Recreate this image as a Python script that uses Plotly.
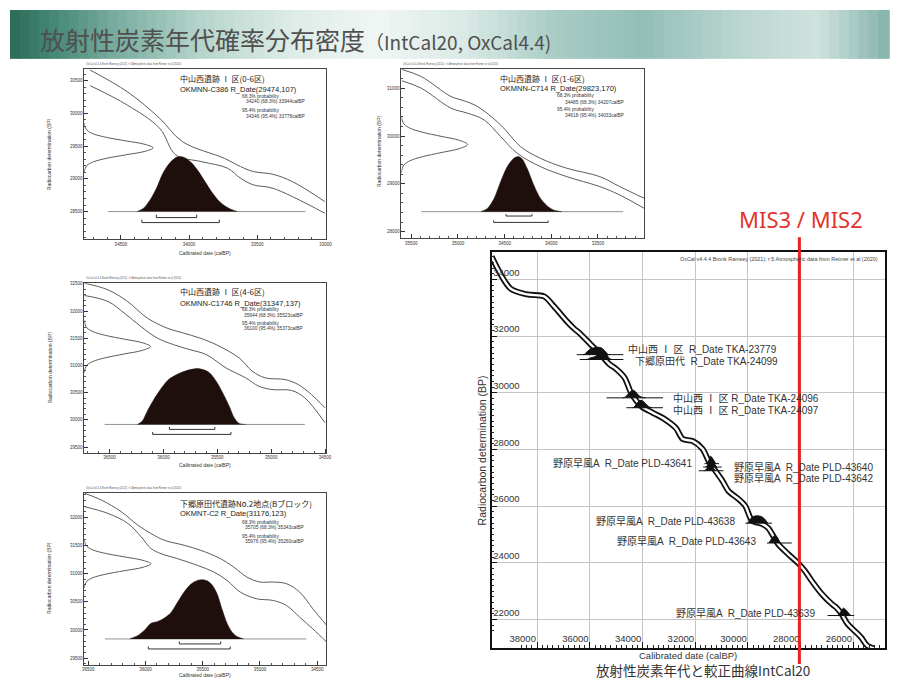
import plotly.graph_objects as go

# page body has an 8px margin: the figure is drawn 8px in from the window edge
OFF = 8
W, H = 902 - 2 * OFF, 687 - 2 * OFF

# ---------------- DATA ----------------
# Panel 1 : OKMNN-C386
p1_upper_cal = [34725, 34453, 34215, 34049, 33741, 33622, 33527, 33385, 33242, 33005]
p1_upper_bp = [30663, 30332, 29925, 29569, 29314, 29187, 29111, 29070, 28958, 28653]
p1_lower_cal = [34725, 34453, 34215, 34097, 33907, 33717, 33622, 33527, 33385, 33005]
p1_lower_bp = [30424, 30128, 29772, 29365, 29263, 29162, 29009, 28907, 28856, 28475]
p1_cal = [34381, 34334, 34286, 34239, 34192, 34144, 34097, 34061, 34025, 33978, 33930, 33883, 33836, 33788, 33741, 33693, 33646]
p1_dens = [0, .061, .212, .424, .697, .879, .982, 1, .97, .879, .727, .545, .364, .212, .109, .042, 0]
p1_rdate = (29474, 107)
p1_r68 = (34240, 33944)
p1_r95 = (34346, 33778)

# Panel 2 : OKMNN-C714
p2_upper_cal = [35600, 35394, 35074, 34933, 34791, 34543, 34330, 34117, 33833, 33479, 33266, 33004]
p2_upper_bp = [31390, 31244, 30825, 30735, 30616, 30232, 29779, 29534, 29325, 29150, 28941, 28697]
p2_lower_cal = [35600, 35394, 35074, 34897, 34720, 34543, 34365, 34117, 33833, 33479, 33266, 33004]
p2_lower_bp = [31154, 31000, 30581, 30477, 30337, 29988, 29639, 29360, 29150, 28941, 28766, 28487]
p2_cal = [34755, 34684, 34613, 34543, 34472, 34401, 34355, 34312, 34259, 34188, 34117, 34046, 33975, 33887]
p2_dens = [0, .06, .24, .545, .818, .97, 1, .958, .788, .485, .242, .109, .03, 0]
p2_rdate = (29823, 170)
p2_r68 = (34485, 34207)
p2_r95 = (34618, 34033)

# Panel 3 : OKMNN-C1746
p3_upper_cal = [36734, 36515, 36333, 36150, 35967, 35815, 35663, 35510, 35297, 35175, 35054, 34871, 34749, 34627, 34500]
p3_upper_bp = [32512, 32390, 32176, 31871, 31687, 31596, 31504, 31382, 31137, 30893, 30771, 30740, 30649, 30465, 30221]
p3_lower_cal = [36734, 36515, 36363, 36211, 36058, 35906, 35754, 35602, 35419, 35236, 35115, 34993, 34810, 34688, 34500]
p3_lower_bp = [32286, 32176, 31962, 31718, 31504, 31382, 31290, 31199, 30954, 30771, 30618, 30557, 30539, 30404, 29946]
p3_cal = [36241, 36196, 36150, 36089, 36028, 35952, 35876, 35784, 35693, 35632, 35571, 35510, 35449, 35389, 35343, 35297, 35236]
p3_dens = [0, .06, .238, .446, .625, .804, .893, .964, 1, .982, .923, .774, .565, .327, .119, .018, 0]
p3_rdate = (31347, 137)
p3_r68 = (35944, 35523)
p3_r95 = (36100, 35373)

# Panel 4 : OKMNT-C2
p4_upper_cal = [36529, 36385, 36211, 36067, 35952, 35836, 35663, 35519, 35346, 35230, 35115, 34999, 34884, 34768, 34653, 34538, 34416]
p4_upper_bp = [32428, 32309, 32101, 31863, 31714, 31595, 31506, 31417, 31268, 31119, 30941, 30852, 30852, 30822, 30673, 30376, 30078]
p4_lower_cal = [36529, 36327, 36154, 36038, 35952, 35865, 35721, 35548, 35403, 35288, 35172, 35028, 34884, 34768, 34653, 34538, 34416]
p4_lower_bp = [32190, 32071, 31893, 31655, 31447, 31357, 31268, 31149, 31030, 30881, 30673, 30554, 30524, 30435, 30227, 30019, 29781]
p4_cal = [36139, 36067, 36009, 35952, 35894, 35836, 35779, 35721, 35663, 35605, 35548, 35504, 35461, 35418, 35375, 35331, 35288, 35245, 35201, 35144]
p4_dens = [0, .059, .147, .265, .294, .353, .441, .618, .794, .924, .988, 1, .982, .912, .765, .5, .265, .118, .041, 0]
p4_rdate = (31176, 123)
p4_r68 = (35705, 35343)
p4_r95 = (35976, 35260)

# Normal-shaped radiocarbon date outline (offset in sigma, relative height)
gauss_sig = [-3.5, -3, -2.5, -2, -1.5, -1, -0.5, 0, 0.5, 1, 1.5, 2, 2.5, 3, 3.5]
gauss_rel = [0.0, 0.01, 0.04, 0.13, 0.32, 0.6, 0.88, 1.0, 0.88, 0.6, 0.32, 0.13, 0.04, 0.01, 0.0]

# Big panel: IntCal20 curve (centre line)
big_curve_cal = [39730, 39015, 38376, 37737, 37361, 36872, 36609, 36383, 36007, 35631, 35255, 34992,
                 34680, 34428, 34052, 33613, 33225, 32736, 32473, 32097, 31721, 31495, 31232, 30969,
                 30743, 30367, 30104, 29841, 29465, 29239, 29089, 28863, 28487, 28111, 27848, 27585,
                 27209, 26833, 26645, 26457, 26231, 25968, 25705, 25479, 25216]
big_curve_bp = [34810, 33683, 33472, 33402, 33050, 32522, 32275, 32099, 31747, 31395, 31008, 30832,
                30526, 29987, 29530, 29294, 29107, 28755, 28368, 28298, 28016, 27594, 27242, 26890,
                26538, 26256, 26010, 25482, 25376, 25235, 25024, 24672, 24320, 24003, 23722, 23370,
                22912, 22560, 22419, 22208, 21856, 21610, 21363, 21082, 20978]

# Big panel dates: cal points, density
nohara_41_cal = [31650, 31560, 31480, 31420, 31360, 31300, 31220]
nohara_41_dens = [0, .3, .8, 1, .7, .3, 0]
nohara_40_cal = [31560, 31480, 31420, 31360, 31290, 31220]
nohara_40_dens = [0, .5, 1, .8, .4, 0]
nohara_42_cal = [31600, 31500, 31430, 31360, 31280, 31200]
nohara_42_dens = [0, .4, .9, 1, .5, 0]
nohara_38_cal = [30000, 29900, 29800, 29650, 29500, 29380, 29250]
nohara_38_dens = [0, .6, .9, 1, .9, .6, 0]
nohara_43_cal = [29200, 29100, 29000, 28920, 28850, 28780]
nohara_43_dens = [0, .6, 1, .9, .5, 0]
nohara_39_cal = [26600, 26480, 26380, 26300, 26200, 26100]
nohara_39_dens = [0, .5, 1, .8, .4, 0]

big_dates = [
    ("TKA-23779", 31347, p3_cal, p3_dens, (36500, 34730)),
    ("TKA-24099", 31176, p4_cal, p4_dens, (36383, 34729)),
    ("TKA-24096", 29823, p2_cal, p2_dens, (35368, 33225)),
    ("TKA-24097", 29474, p1_cal, p1_dens, (34616, 33225)),
    ("PLD-43640", 27500, nohara_40_cal, nohara_40_dens, (31650, 31100)),
    ("PLD-43642", 27380, nohara_42_cal, nohara_42_dens, (31700, 31000)),
    ("PLD-43641", 27250, nohara_41_cal, nohara_41_dens, (31870, 30930)),
    ("PLD-43638", 25400, nohara_38_cal, nohara_38_dens, (30100, 29090)),
    ("PLD-43643", 24700, nohara_43_cal, nohara_43_dens, (29280, 28340)),
    ("PLD-43639", 22140, nohara_39_cal, nohara_39_dens, (26980, 25970)),
]
mis_boundary = 28050

# ---------------- FIGURE ----------------
LATIN = "Liberation Sans, Arial, Noto Sans CJK JP, sans-serif"
CJK = "Noto Sans CJK JP, Liberation Sans, sans-serif"
CURVE = "#5c5c5c"
INK = "#1e0f0d"


def fx(px):
    return (px - OFF) / W


def fy(py):
    return 1 - (py - OFF) / H


fig = go.Figure()
annotations = []
shapes = []


def note(text, x, y, size, family=LATIN, color="#333", xanchor="center", yanchor="middle", angle=0):
    annotations.append(dict(xref="paper", yref="paper", x=fx(x), y=fy(y), xanchor=xanchor, yanchor=yanchor,
                            showarrow=False, text=text, textangle=angle,
                            font=dict(family=family, size=size, color=color)))


# background band (slide header)
band_stops = [(0.0, (44, 107, 87)), (0.04, (63, 131, 112)), (0.12, (121, 173, 159)), (0.22, (184, 214, 205)),
              (0.32, (222, 236, 231)), (0.42, (240, 246, 244)), (0.52, (218, 234, 230)), (0.62, (170, 205, 198)),
              (0.72, (147, 191, 183)), (0.82, (184, 212, 207)), (0.92, (208, 227, 223)), (1.0, (132, 179, 171))]
n_strips = 90
for i in range(n_strips):
    t = (i + 0.5) / n_strips
    c = band_stops[-1][1]
    for j in range(len(band_stops) - 1):
        a, ca = band_stops[j]
        b, cb = band_stops[j + 1]
        if a <= t <= b:
            u = (t - a) / (b - a)
            c = tuple(int(ca[k] + (cb[k] - ca[k]) * u) for k in range(3))
            break
    shapes.append(dict(type="rect", xref="paper", yref="paper", x0=i / n_strips, x1=(i + 1) / n_strips + 0.002,
                       y0=fy(57), y1=1.0, fillcolor="rgb(%d,%d,%d)" % c, line_width=0, layer="below"))

note("放射性炭素年代確率分布密度<span style='font-size:19px'>（IntCal20, OxCal4.4)</span>", 36, 37, 25,
     family=CJK, color="#505050", xanchor="left")

small = [
    dict(i=1, dx=(83, 327), dy=(67, 238), xr=[34768, 32995], yr=[28076, 30682], xt0=33000, ydt=500, yt0=28500,
         ym=100, up=(p1_upper_cal, p1_upper_bp), lo=(p1_lower_cal, p1_lower_bp), cal=p1_cal, dens=p1_dens,
         rd=p1_rdate, amp=505, base=28500, h=840, bl=(34595, 33147), r68=p1_r68, r95=p1_r95,
         y68=28408, y95=28332, tk=45,
         t1="中山西遺跡 Ⅰ 区(0-6区)", t2="OKMNN-C386 R_Date(29474,107)",
         txy=(178, 77, 88), pxy=(240, 244, 95, 100, 109, 115),
         p68="34240 (68.3%) 33944calBP", p95="34346 (95.4%) 33778calBP",
         xt=(205, 252), yt=(47, 153)),
    dict(i=2, dx=(403, 648), dy=(67, 237), xr=[35606, 33004], yr=[27860, 31405], xt0=33500, ydt=1000, yt0=28000,
         ym=200, up=(p2_upper_cal, p2_upper_bp), lo=(p2_lower_cal, p2_lower_bp), cal=p2_cal, dens=p2_dens,
         rd=p2_rdate, amp=709, base=28417, h=1152, bl=(35394, 33230), r68=p2_r68, r95=p2_r95,
         y68=28326, y95=28193, tk=40,
         t1="中山西遺跡 Ⅰ 区(1-6区)", t2="OKMNN-C714 R_Date(29823,170)",
         txy=(500, 77, 87), pxy=(558, 566, 94, 101, 108, 114),
         p68="34485 (68.3%) 34207calBP", p95="34618 (95.4%) 34033calBP",
         xt=None, yt=(380, 150)),
    dict(i=3, dx=(83, 327), dy=(282, 452), xr=[36734, 34490], yr=[29396, 32512], xt0=34500, ydt=500, yt0=29500,
         ym=100, up=(p3_upper_cal, p3_upper_bp), lo=(p3_lower_cal, p3_lower_bp), cal=p3_cal, dens=p3_dens,
         rd=p3_rdate, amp=615, base=29915, h=1027, bl=(36546, 34688), r68=p3_r68, r95=p3_r95,
         y68=29824, y95=29732, tk=45,
         t1="中山西遺跡 Ⅰ 区(4-6区)", t2="OKMNN-C1746 R_Date(31347,137)",
         txy=(178, 290, 302), pxy=(240, 242, 308, 314, 322, 327),
         p68="35944 (68.3%) 35523calBP", p95="36100 (95.4%) 35373calBP",
         xt=(205, 464), yt=(48, 367)),
    dict(i=4, dx=(83, 327), dy=(492, 665), xr=[36535, 34422], yr=[29376, 32443], xt0=34500, ydt=500, yt0=29500,
         ym=100, up=(p4_upper_cal, p4_upper_bp), lo=(p4_lower_cal, p4_lower_bp), cal=p4_cal, dens=p4_dens,
         rd=p4_rdate, amp=583, base=29840, h=1053, bl=(36356, 34595), r68=p4_r68, r95=p4_r95,
         y68=29751, y95=29662, tk=45,
         t1="下郷原田代遺跡No.2地点(Bブロック)", t2="OKMNT-C2 R_Date(31176,123)",
         txy=(178, 503, 513), pxy=(240, 243, 522, 527, 536, 541),
         p68="35705 (68.3%) 35343calBP", p95="35976 (95.4%) 35260calBP",
         xt=(205, 675), yt=(48, 578)),
]

layout_axes = {}
for p in small:
    i = p["i"]
    xa = "x" if i == 1 else "x%d" % i
    ya = "y" if i == 1 else "y%d" % i
    xkey = "xaxis" if i == 1 else "xaxis%d" % i
    ykey = "yaxis" if i == 1 else "yaxis%d" % i
    layout_axes[xkey] = dict(domain=[fx(p["dx"][0]), fx(p["dx"][1])], range=p["xr"], anchor=ya,
                             tickmode="linear", tick0=p["xt0"], dtick=500, tickformat="d",
                             ticks="inside", ticklen=4, tickcolor="#333", showgrid=False, zeroline=False,
                             showline=True, mirror=True, linecolor="#444", linewidth=1,
                             tickfont=dict(family=LATIN, size=4.5, color="#333"),
                             minor=dict(ticks="inside", ticklen=2, dtick=100, tickcolor="#555", showgrid=False))
    layout_axes[ykey] = dict(domain=[fy(p["dy"][1]), fy(p["dy"][0])], range=p["yr"], anchor=xa,
                             tickmode="linear", tick0=p["yt0"], dtick=p["ydt"], tickformat="d",
                             ticks="inside", ticklen=4, tickcolor="#333", showgrid=False, zeroline=False,
                             showline=True, mirror=True, linecolor="#444", linewidth=1,
                             tickfont=dict(family=LATIN, size=4.5, color="#333"),
                             minor=dict(ticks="inside", ticklen=2, dtick=p["ym"], tickcolor="#555", showgrid=False))
    # calibration curve envelope
    for cx, cy in (p["up"], p["lo"]):
        fig.add_trace(go.Scatter(x=cx, y=cy, xaxis=xa, yaxis=ya, mode="lines",
                                 line=dict(color=CURVE, width=1, shape="spline", smoothing=1.0),
                                 hoverinfo="skip"))
    # radiocarbon date outline on the y axis
    mean, sd = p["rd"]
    gx = [p["xr"][0] - p["amp"] * r for r in gauss_rel]
    gy = [mean + s * sd for s in gauss_sig]
    fig.add_trace(go.Scatter(x=gx, y=gy, xaxis=xa, yaxis=ya, mode="lines",
                             line=dict(color=CURVE, width=1, shape="spline", smoothing=1.0), hoverinfo="skip"))
    # baseline
    fig.add_trace(go.Scatter(x=list(p["bl"]), y=[p["base"], p["base"]], xaxis=xa, yaxis=ya, mode="lines",
                             line=dict(color="#777", width=0.8), hoverinfo="skip"))
    # calibrated distribution
    fig.add_trace(go.Scatter(x=p["cal"], y=[p["base"] + p["h"] * d for d in p["dens"]], xaxis=xa, yaxis=ya,
                             mode="lines", fill="toself", fillcolor=INK,
                             line=dict(color=INK, width=0.5, shape="spline", smoothing=0.8), hoverinfo="skip"))
    # range brackets
    for (a, b), yy in ((p["r68"], p["y68"]), (p["r95"], p["y95"])):
        fig.add_trace(go.Scatter(x=[a, a, b, b], y=[yy + p["tk"], yy, yy, yy + p["tk"]], xaxis=xa, yaxis=ya,
                                 mode="lines", line=dict(color="#333", width=1), hoverinfo="skip"))
    # texts
    tx, ty1, ty2 = p["txy"]
    note(p["t1"], tx, ty1, 8, family=CJK, color="#222", xanchor="left")
    note(p["t2"], tx, ty2, 7.5, color="#222", xanchor="left")
    px1, px2, py1, py2, py3, py4 = p["pxy"]
    for xx, yy, tt in ((px1, py1, "68.3% probability"), (px2, py2, p["p68"]),
                       (px1, py3, "95.4% probability"), (px2, py4, p["p95"])):
        note(tt, xx, yy, 4.8, xanchor="left")
    note("OxCal v4.4.4 Bronk Ramsey (2021); r:5 Atmospheric data from Reimer et al (2020)",
         p["dx"][0], p["dy"][0] - 1, 2.6, color="#555", xanchor="left", yanchor="bottom")
    if p["xt"]:
        note("Calibrated date (calBP)", p["xt"][0], p["xt"][1], 5)
    note("Radiocarbon determination (BP)", p["yt"][0], p["yt"][1], 5, angle=-90)

# ---------------- big panel ----------------
layout_axes["xaxis5"] = dict(domain=[fx(494), fx(891)], range=[39729, 24800], anchor="y5",
                             tickmode="linear", tick0=26000, dtick=2000, tickformat="d",
                             ticks="inside", ticklen=6, tickcolor="#111", ticklabelposition="inside left",
                             showgrid=True, gridcolor="#c4c4c4", gridwidth=1, zeroline=False,
                             showline=True, mirror=True, linecolor="#111", linewidth=1.5,
                             tickfont=dict(family=LATIN, size=9.5, color="#333"),
                             minor=dict(ticks="inside", ticklen=3, dtick=200, tickcolor="#222", showgrid=False))
layout_axes["yaxis5"] = dict(domain=[fy(648), fy(251)], range=[20991, 34960], anchor="x5",
                             tickmode="linear", tick0=22000, dtick=2000, tickformat="d",
                             ticks="inside", ticklen=6, tickcolor="#111", ticklabelposition="inside top",
                             showgrid=True, gridcolor="#c4c4c4", gridwidth=1, zeroline=False,
                             showline=True, mirror=True, linecolor="#111", linewidth=1.5,
                             tickfont=dict(family=LATIN, size=9.5, color="#333"),
                             minor=dict(ticks="inside", ticklen=3, dtick=200, tickcolor="#222", showgrid=False))

# double-line calibration curve
fig.add_trace(go.Scatter(x=big_curve_cal, y=big_curve_bp, xaxis="x5", yaxis="y5", mode="lines",
                         line=dict(color="#111", width=6, shape="spline", smoothing=0.8), hoverinfo="skip"))
fig.add_trace(go.Scatter(x=big_curve_cal, y=big_curve_bp, xaxis="x5", yaxis="y5", mode="lines",
                         line=dict(color="white", width=2.4, shape="spline", smoothing=0.8), hoverinfo="skip"))

for lab, bp, cal, dens, (l0, l1) in big_dates:
    fig.add_trace(go.Scatter(x=[l0, l1], y=[bp, bp], xaxis="x5", yaxis="y5", mode="lines",
                             line=dict(color="#111", width=1), hoverinfo="skip"))
    fig.add_trace(go.Scatter(x=cal, y=[bp + 260 * d for d in dens], xaxis="x5", yaxis="y5", mode="lines",
                             fill="toself", fillcolor="#111", line=dict(color="#111", width=1, shape="spline"),
                             hoverinfo="skip"))

big_labels = [
    ("中山西 Ⅰ 区  R_Date TKA-23779", 630, 348, "left"),
    ("下郷原田代  R_Date TKA-24099", 637, 360, "left"),
    ("中山西 Ⅰ 区 R_Date TKA-24096", 675, 397, "left"),
    ("中山西 Ⅰ 区 R_Date TKA-24097", 675, 409, "left"),
    ("野原早風A  R_Date PLD-43641", 698, 463, "right"),
    ("野原早風A  R_Date PLD-43640", 737, 467, "left"),
    ("野原早風A  R_Date PLD-43642", 737, 478, "left"),
    ("野原早風A  R_Date PLD-43638", 742, 521, "right"),
    ("野原早風A  R_Date PLD-43643", 763, 541, "right"),
    ("野原早風A  R_Date PLD-43639", 822, 613, "right"),
]
for t, xx, yy, anc in big_labels:
    note(t, xx, yy, 10, xanchor=anc)

note("OxCal v4.4.4 Bronk Ramsey (2021); r:5 Atmospheric data from Reimer et al (2020)", 886, 258, 5.4,
     color="#444", xanchor="right")
note("Calibrated date (calBP)", 692, 655, 9.5)
note("Radiocarbon determination (BP)", 484, 450, 10.5, angle=-90)
note("放射性炭素年代と較正曲線IntCal20", 707, 670, 13.5, family=CJK)
note("MIS3 / MIS2", 806, 218, 22, family="Noto Sans, " + CJK, color="#e5322d")

# MIS boundary red line (data x, paper y)
shapes.append(dict(type="line", xref="x5", yref="paper", x0=mis_boundary, x1=mis_boundary,
                   y0=fy(664), y1=fy(236), line=dict(color="#e5231f", width=3)))

fig.update_layout(width=W, height=H, autosize=False, margin=dict(l=0, r=0, t=0, b=0),
                  paper_bgcolor="white", plot_bgcolor="white", showlegend=False,
                  annotations=annotations, shapes=shapes, **layout_axes)

fig.write_html("out.html")
